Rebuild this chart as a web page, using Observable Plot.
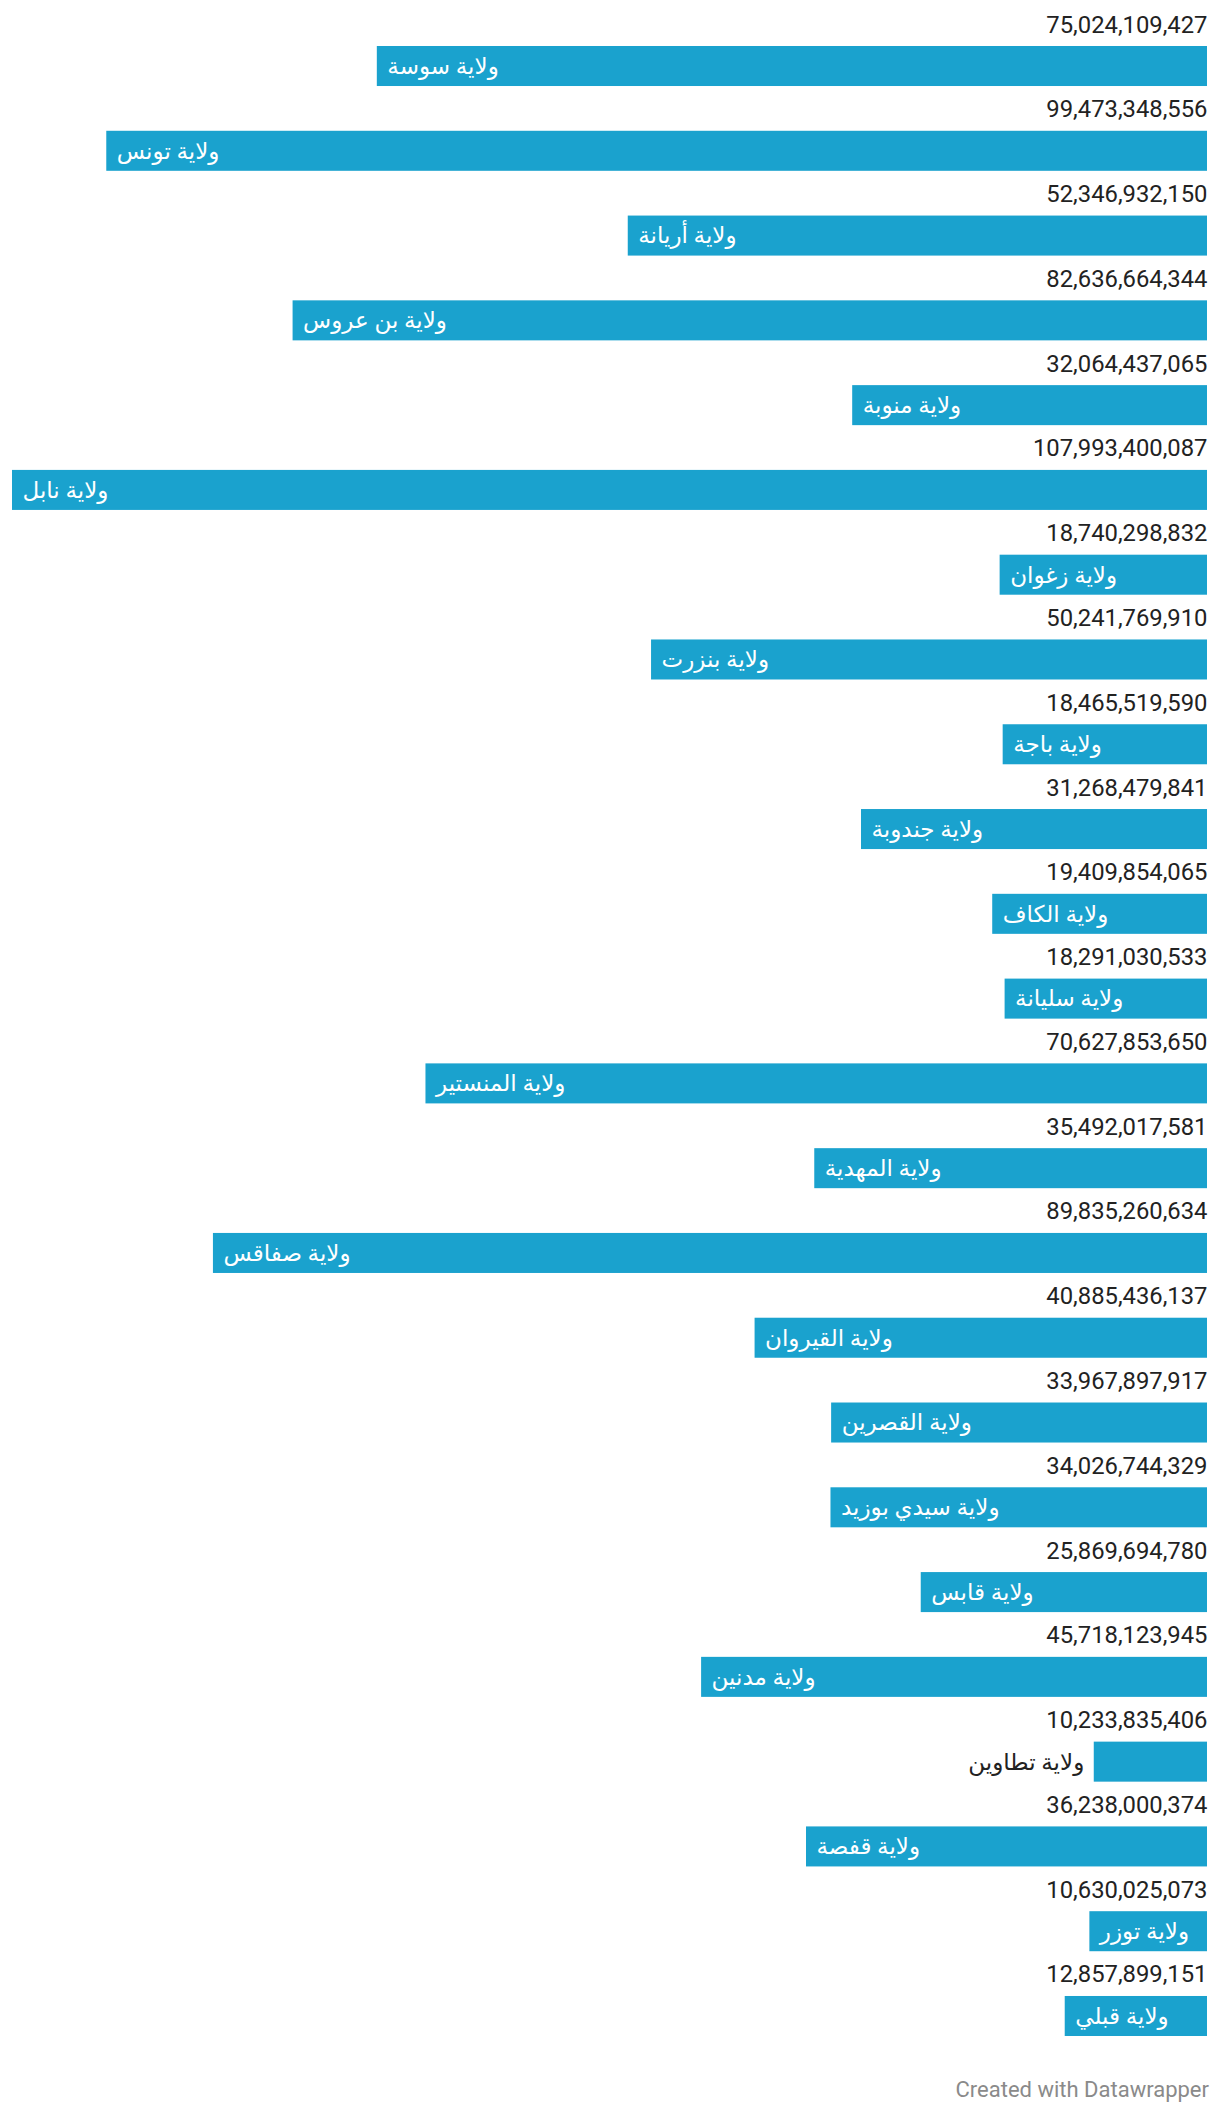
<!DOCTYPE html>
<html>
<head>
<meta charset="utf-8">
<script src="https://cdn.jsdelivr.net/npm/d3@7"></script>
<script src="https://cdn.jsdelivr.net/npm/@observablehq/plot@0.6"></script>
<style>
  html, body { margin: 0; padding: 0; background: #fff; }
  #chart svg { display: block; }
  #footer { width: 1220px; box-sizing: border-box; padding-right: 11px; text-align: right;
    font-family: Roboto, sans-serif; font-size: 22px; color: #8a8a8a; margin-top: 27px; }
</style>
</head>
<body>
<div id="chart"></div>
<div id="footer">Created with Datawrapper</div>
<script>
const regions = [
  "ولاية سوسة", "ولاية تونس", "ولاية أريانة", "ولاية بن عروس", "ولاية منوبة", "ولاية نابل",
  "ولاية زغوان", "ولاية بنزرت", "ولاية باجة", "ولاية جندوبة", "ولاية الكاف", "ولاية سليانة",
  "ولاية المنستير", "ولاية المهدية", "ولاية صفاقس", "ولاية القيروان", "ولاية القصرين", "ولاية سيدي بوزيد",
  "ولاية قابس", "ولاية مدنين", "ولاية تطاوين", "ولاية قفصة", "ولاية توزر", "ولاية قبلي"
];
const values = [
  75024109427, 99473348556, 52346932150, 82636664344, 32064437065, 107993400087,
  18740298832, 50241769910, 18465519590, 31268479841, 19409854065, 18291030533,
  70627853650, 35492017581, 89835260634, 40885436137, 33967897917, 34026744329,
  25869694780, 45718123945, 10233835406, 36238000374, 10630025073, 12857899151
];

const data = regions.map((name, i) => ({name, value: values[i]}));
const maxV = d3.max(values);
const W = 1220, xLeft = 12, xRight = 1207;
const pxPerUnit = (xRight - xLeft) / maxV;
const fits = d => d.value * pxPerUnit > 116;
const fmt = d3.format(",");
const font = "Roboto, 'Noto Sans', 'DejaVu Sans', sans-serif";

const chart = Plot.plot({
  width: W,
  height: 2050,
  marginLeft: xLeft,
  marginRight: W - xRight,
  marginTop: 0,
  marginBottom: 0,
  style: {fontFamily: font, background: "#fff"},
  x: {domain: [0, maxV], range: [xRight, xLeft], axis: null},
  y: {domain: regions, range: [46, 2036], paddingInner: 0.528, paddingOuter: 0, round: false, axis: null},
  marks: [
    Plot.barX(data, {x: "value", y: "name", fill: "#1aa2ce"}),
    Plot.text(data, {
      x: 0, y: "name", text: d => fmt(d.value), textAnchor: "end",
      lineAnchor: "bottom", dy: -34, fontSize: 23.8, fill: "#222"
    }),
    Plot.text(data.filter(fits), {
      x: "value", y: "name", text: "name", textAnchor: "start", dx: 10,
      fontSize: 23, fill: "#fff"
    }),
    Plot.text(data.filter(d => !fits(d)), {
      x: "value", y: "name", text: "name", textAnchor: "end", dx: -10,
      fontSize: 23, fill: "#222"
    })
  ]
});
document.getElementById("chart").appendChild(chart);
</script>
</body>
</html>
